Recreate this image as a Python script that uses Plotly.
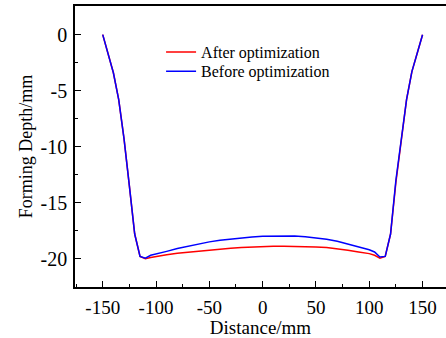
import plotly.graph_objects as go

distance = [-150, -145, -140, -135, -130, -125, -120, -115, -110, -105, -100, -90, -80, -70, -60, -50,
            -40, -30, -20, -10, 0, 10, 20, 30, 40, 50, 60, 70, 80, 90, 100, 105, 110, 115,
            120, 125, 130, 135, 140, 145, 150]

after_opt = [0.0, -1.6, -3.4, -5.8, -9.3, -13.5, -17.8, -19.8, -20.0, -19.9, -19.8, -19.65, -19.52, -19.42,
             -19.32, -19.22, -19.13, -19.06, -19.0, -18.95, -18.92, -18.9, -18.9, -18.9, -18.92,
             -18.95, -19.0, -19.1, -19.25, -19.4, -19.55, -19.7, -19.95, -19.8,
             -17.8, -13.2, -9.3, -5.8, -3.3, -1.6, 0.0]

before_opt = [0.0, -1.6, -3.4, -5.8, -9.3, -13.5, -17.8, -19.8, -19.95, -19.7, -19.6, -19.35, -19.1, -18.88,
              -18.68, -18.5, -18.36, -18.25, -18.15, -18.06, -18.0, -17.98, -17.95, -17.98, -18.05,
              -18.15, -18.27, -18.45, -18.7, -18.95, -19.2, -19.4, -19.85, -19.8,
              -17.8, -13.0, -9.3, -5.8, -3.3, -1.6, 0.0]

x_ticks = [-150, -100, -50, 0, 50, 100, 150]
x_tick_labels = ["-150", "-100", "-50", "0", "50", "100", "150"]
y_ticks = [0, -5, -10, -15, -20]
y_tick_labels = ["0", "-5", "-10", "-15", "-20"]

FONT = "Liberation Serif, Times New Roman, serif"

fig = go.Figure()
fig.add_trace(go.Scatter(x=distance, y=after_opt, mode="lines", name="After optimization",
                         line=dict(color="#ff0000", width=1.5), legend="legend"))
fig.add_trace(go.Scatter(x=distance, y=before_opt, mode="lines", name="Before optimization",
                         line=dict(color="#0000ff", width=1.5), legend="legend2"))

axis_common = dict(
    showgrid=False, zeroline=False, showline=True, linecolor="black", linewidth=1.6,
    ticks="inside", ticklen=6, tickwidth=1.2, tickcolor="black",
    tickfont=dict(family=FONT, size=20, color="black"),
)

fig.update_xaxes(**axis_common)
fig.update_xaxes(range=[-176, 172], tickvals=x_ticks, ticktext=x_tick_labels, mirror=True,
                 ticklabelstandoff=2, tickfont=dict(family=FONT, size=19, color="black"),
                 minor=dict(ticks="inside", ticklen=3.5, tickwidth=1.2, tickcolor="black", dtick=25, tick0=-175),
                 title=dict(text="Distance/mm", font=dict(family=FONT, size=19, color="black"), standoff=6))
fig.update_yaxes(**axis_common)
fig.update_yaxes(range=[-22.53, 2.56], tickvals=y_ticks, ticktext=y_tick_labels,
                 ticklabelstandoff=2,
                 minor=dict(ticks="inside", ticklen=3.5, tickwidth=1.2, tickcolor="black", dtick=2.5, tick0=0),
                 title=dict(text="Forming Depth/mm", font=dict(family=FONT, size=18, color="black"), standoff=3))

legend_common = dict(xanchor="left", yanchor="top",
                     font=dict(family=FONT, size=16, color="black"),
                     bgcolor="rgba(0,0,0,0)", borderwidth=0)

fig.update_layout(
    width=446, height=338,
    margin=dict(l=75, r=0, t=6, b=51),
    plot_bgcolor="white", paper_bgcolor="white",
    font=dict(family=FONT, color="black"),
    legend=dict(x=0.232, y=0.896, **legend_common),
    legend2=dict(x=0.232, y=0.828, **legend_common),
    showlegend=True,
)

fig.write_html("out.html")
